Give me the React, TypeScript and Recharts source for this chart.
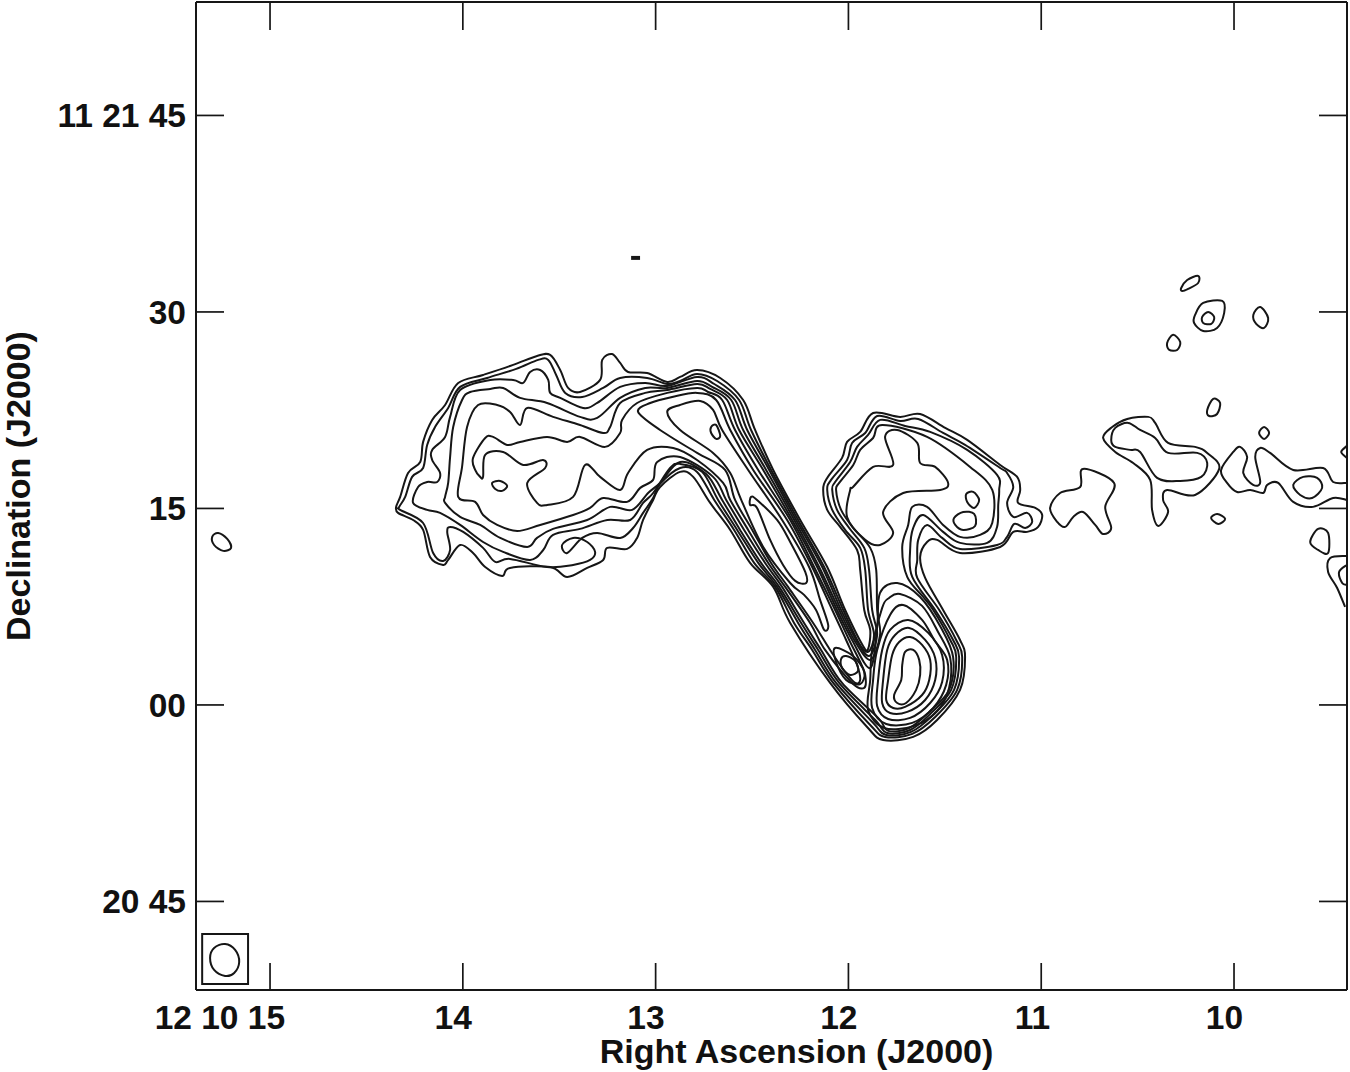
import { ScatterChart, Scatter, XAxis, YAxis } from "recharts";

// Positions are [RA seconds past 12h 10m, Dec arcsec past +11d 21m]
type Contour = [number, number][];

const raTicks = [15, 14, 13, 12, 11, 10];
const raTickLabels = ["12 10 15", "14", "13", "12", "11", "10"];
const decTicks = [45, 30, 15, 0, -15];
const decTickLabels = ["11 21 45", "30", "15", "00", "20 45"];

const level1: Contour = [[14.346,15.12],[14.325,15.88],[14.284,17.71],[14.221,18.55],[14.206,20.08],[14.159,21.76],[14.092,22.9],[14.024,24.58],[13.895,25.19],[13.739,25.96],[13.615,26.64],[13.547,26.72],[13.495,25.57],[13.454,24.2],[13.392,23.89],[13.288,24.81],[13.277,26.34],[13.226,26.79],[13.184,26.11],[13.143,25.42],[13.044,25.34],[12.94,24.66],[12.873,25.04],[12.785,25.57],[12.665,24.96],[12.546,23.28],[12.484,20.99],[12.39,17.94],[12.25,14.12],[12.11,10.53],[12.017,7.25],[11.924,4.5],[11.898,4.28],[11.887,5.73],[11.918,7.25],[11.939,10.31],[11.955,11.83],[12.043,13.59],[12.11,14.89],[12.131,16.41],[12.11,17.33],[12.033,18.86],[12.007,20.08],[11.939,20.84],[11.872,22.29],[11.732,21.99],[11.628,22.21],[11.498,21.15],[11.384,20.23],[11.213,18.32],[11.125,17.41],[11.109,16.41],[11.12,15.42],[11.031,15.04],[10.995,14.5],[11.016,13.59],[11.073,13.21],[11.145,13.21],[11.213,12.06],[11.421,11.6],[11.54,12.6],[11.592,12.44],[11.628,11.3],[11.602,9.7],[11.509,7.25],[11.421,4.96],[11.395,3.66],[11.421,1.15],[11.54,-1.15],[11.664,-2.44],[11.82,-2.67],[11.903,-1.68],[12.095,1.68],[12.302,6.26],[12.39,9.01],[12.51,10.84],[12.613,13.36],[12.717,15.42],[12.805,17.41],[12.873,17.79],[12.977,16.64],[13.013,15.65],[13.065,14.12],[13.096,12.75],[13.148,11.91],[13.251,11.99],[13.272,11.07],[13.355,10.46],[13.459,9.77],[13.547,10.53],[13.755,10.46],[13.796,9.85],[13.884,10.53],[13.947,11.6],[14.014,12.21],[14.076,11.07],[14.102,10.69],[14.17,11.3],[14.206,13.36],[14.258,14.12],[14.336,14.66]];
const level2: Contour = [[14.33,15.12],[14.299,15.88],[14.263,17.41],[14.206,18.09],[14.185,19.85],[14.144,21.22],[14.076,22.67],[14.014,24.28],[13.874,24.96],[13.723,25.65],[13.609,26.34],[13.557,26.34],[13.516,25.19],[13.469,23.82],[13.381,23.51],[13.272,24.2],[13.184,24.96],[13.044,24.96],[12.94,24.5],[12.873,24.73],[12.785,25.27],[12.681,24.73],[12.567,23.28],[12.505,20.99],[12.401,17.94],[12.261,14.12],[12.126,10.53],[12.027,7.25],[11.949,4.81],[11.898,4.05],[11.867,5.34],[11.898,7.25],[11.913,10.31],[11.939,11.99],[12.017,13.36],[12.084,14.89],[12.11,16.41],[12.09,17.18],[12.007,18.7],[11.981,20.0],[11.913,20.76],[11.851,22.06],[11.732,21.68],[11.638,21.83],[11.509,20.76],[11.395,19.85],[11.213,18.09],[11.177,17.71],[11.145,16.64],[11.177,15.42],[11.145,14.35],[11.073,14.66],[11.047,13.97],[11.083,13.51],[11.14,13.82],[11.177,12.83],[11.229,12.21],[11.421,11.91],[11.514,12.75],[11.592,13.74],[11.638,12.6],[11.643,11.07],[11.643,9.7],[11.529,7.25],[11.441,4.96],[11.41,3.66],[11.436,1.15],[11.55,-0.92],[11.669,-2.21],[11.81,-2.44],[11.887,-1.53],[12.079,1.68],[12.188,4.2],[12.282,6.26],[12.38,9.01],[12.489,10.84],[12.593,13.36],[12.696,15.65],[12.785,17.79],[12.873,18.09],[12.977,16.87],[13.013,15.8],[13.065,14.66],[13.117,13.51],[13.184,12.75],[13.303,13.13],[13.381,12.75],[13.459,11.6],[13.485,12.21],[13.428,12.75],[13.355,12.44],[13.314,11.68],[13.34,11.07],[13.428,10.69],[13.563,10.53],[13.755,11.15],[13.832,10.92],[13.895,11.99],[13.998,13.21],[14.066,13.59],[14.081,13.21],[14.066,11.83],[14.102,10.99],[14.154,11.6],[14.206,13.89],[14.325,14.89]];
const level3: Contour = [[14.258,15.42],[14.232,16.64],[14.185,17.02],[14.133,17.02],[14.118,17.71],[14.159,18.7],[14.159,19.47],[14.092,20.46],[14.066,21.99],[14.014,24.05],[13.858,24.81],[13.739,24.81],[13.687,24.58],[13.651,25.42],[13.599,25.57],[13.557,24.81],[13.547,23.82],[13.495,23.44],[13.376,22.67],[13.303,23.05],[13.184,24.28],[13.054,24.58],[12.94,24.35],[12.785,25.04],[12.696,24.5],[12.588,23.28],[12.525,20.99],[12.411,17.94],[12.271,14.12],[12.136,10.53],[12.038,7.25],[11.96,4.96],[11.893,3.74],[11.851,5.34],[11.877,7.25],[11.893,10.31],[11.918,11.99],[11.996,13.51],[12.059,14.89],[12.084,16.41],[12.069,17.02],[11.991,18.55],[11.955,19.7],[11.898,20.61],[11.835,21.76],[11.706,21.3],[11.576,20.84],[11.384,19.47],[11.229,17.56],[11.218,16.41],[11.223,15.27],[11.229,13.59],[11.28,12.37],[11.421,12.37],[11.509,13.21],[11.612,14.5],[11.664,13.51],[11.68,11.83],[11.669,9.77],[11.55,7.25],[11.457,4.96],[11.426,3.66],[11.452,1.15],[11.56,-0.76],[11.675,-2.06],[11.804,-2.29],[11.872,-1.37],[12.064,1.68],[12.173,4.2],[12.261,6.26],[12.37,9.01],[12.468,10.84],[12.577,13.36],[12.676,15.65],[12.759,17.79],[12.873,18.4],[12.925,18.09],[13.013,16.18],[13.065,15.42],[13.132,14.12],[13.251,14.12],[13.392,13.44],[13.532,12.98],[13.583,11.83],[13.651,11.07],[13.791,11.68],[13.895,12.44],[14.014,13.74],[14.118,14.66],[14.185,14.89]];
const level4: Contour = [[14.092,15.88],[14.076,16.95],[14.066,18.93],[14.05,21.22],[14.004,23.28],[13.962,23.89],[13.858,24.12],[13.791,24.2],[13.703,23.44],[13.563,23.05],[13.392,21.99],[13.303,21.91],[13.184,23.44],[13.054,24.2],[12.94,24.2],[12.785,24.73],[12.707,24.28],[12.608,23.28],[12.546,20.99],[12.427,17.94],[12.281,14.12],[12.152,10.53],[12.048,7.25],[11.97,4.96],[11.887,3.44],[11.836,5.34],[11.851,7.25],[11.856,10.31],[11.887,11.99],[11.975,13.51],[12.038,14.89],[12.064,16.41],[12.048,16.95],[11.975,18.32],[11.939,19.47],[11.872,20.38],[11.825,21.37],[11.592,20.46],[11.369,18.17],[11.254,16.41],[11.254,13.89],[11.317,12.98],[11.421,12.83],[11.509,13.74],[11.592,15.12],[11.669,15.12],[11.69,13.74],[11.721,12.06],[11.695,9.77],[11.612,8.24],[11.56,7.25],[11.472,4.96],[11.441,3.66],[11.467,1.15],[11.576,-0.69],[11.68,-1.91],[11.799,-2.14],[11.861,-1.15],[12.048,1.68],[12.157,4.2],[12.245,6.26],[12.359,9.01],[12.453,10.84],[12.562,13.36],[12.655,15.65],[12.738,17.63],[12.873,18.55],[12.977,16.95],[13.039,16.18],[13.122,14.89],[13.236,15.12],[13.355,14.12],[13.532,13.44],[13.615,12.75],[13.666,12.06],[13.806,12.75],[13.91,13.74],[14.014,14.35],[14.092,15.42]];
const level5: Contour = [[14.024,15.88],[14.004,18.17],[13.978,21.22],[13.921,22.9],[13.822,22.9],[13.755,22.37],[13.703,21.37],[13.666,22.67],[13.532,21.99],[13.392,21.37],[13.272,20.76],[13.236,21.22],[13.184,23.05],[13.054,23.82],[12.94,24.05],[12.785,24.5],[12.717,24.12],[12.629,23.28],[12.567,20.99],[12.442,17.94],[12.292,14.12],[12.162,10.53],[12.059,7.25],[11.981,4.96],[11.887,2.82],[11.851,5.95],[11.836,8.55],[11.747,9.31],[11.628,8.24],[11.519,5.88],[11.457,3.66],[11.478,1.15],[11.581,-0.53],[11.685,-1.76],[11.794,-1.98],[11.846,-0.99],[12.033,1.68],[12.142,4.2],[12.23,6.26],[12.344,9.01],[12.432,10.84],[12.541,13.36],[12.634,15.65],[12.702,17.41],[12.873,18.93],[12.992,18.55],[13.013,17.18],[13.08,16.57],[13.148,15.5],[13.272,15.8],[13.34,15.04],[13.428,14.5],[13.599,13.74],[13.718,13.28],[13.822,13.74],[13.895,14.5],[13.936,15.5]];
const level6: Contour = [[13.947,18.86],[13.884,20.38],[13.843,20.46],[13.77,19.85],[13.703,20.08],[13.563,20.46],[13.459,20.08],[13.392,20.46],[13.262,19.7],[13.184,20.76],[13.174,21.76],[13.096,23.05],[12.94,23.82],[12.785,24.2],[12.728,23.89],[12.655,23.28],[12.588,20.99],[12.468,17.94],[12.302,14.12],[12.178,10.53],[12.069,7.25],[11.996,4.96],[11.939,3.28],[11.913,2.29],[11.918,1.3],[11.981,1.68],[12.121,4.2],[12.199,6.26],[12.328,9.01],[12.416,10.84],[12.52,13.36],[12.613,15.65],[12.65,16.95],[12.785,18.7],[12.909,19.62],[13.044,19.47],[13.143,17.71],[13.184,16.41],[13.288,17.41],[13.366,18.32],[13.428,15.88],[13.563,15.27],[13.615,15.42],[13.666,16.95],[13.573,18.09],[13.584,18.7],[13.687,18.32],[13.791,19.31],[13.884,19.09],[13.895,17.41],[13.91,17.41],[13.936,17.94]];
const level7: Contour = [[13.091,22.37],[13.028,23.05],[12.914,23.51],[12.785,23.82],[12.686,23.28],[12.613,20.99],[12.494,17.94],[12.318,14.12],[12.188,10.53],[12.084,7.25],[12.012,4.96],[11.955,3.05],[11.939,1.91],[11.965,1.68],[12.017,2.52],[12.095,4.2],[12.183,6.26],[12.313,9.01],[12.401,10.84],[12.499,13.36],[12.588,15.65],[12.64,17.94],[12.785,19.24],[12.977,20.99]];
const level8: Contour = [[12.94,22.37],[12.873,22.9],[12.769,23.21],[12.702,22.52],[12.655,20.99],[12.52,17.94],[12.344,14.12],[12.204,10.53],[12.147,8.02],[12.105,6.11],[12.126,5.73],[12.168,7.25],[12.23,8.4],[12.302,9.31],[12.442,12.06],[12.556,15.65],[12.613,17.71],[12.702,19.24],[12.873,20.99]];
const jetKnot: Contour = [[12.505,15.88],[12.474,15.65],[12.37,14.12],[12.302,12.44],[12.224,10.15],[12.219,9.31],[12.276,9.47],[12.339,10.69],[12.406,12.6],[12.474,15.04],[12.51,15.27]];
const jetIsland: Contour = [[12.712,21.22],[12.686,21.37],[12.665,20.54],[12.686,20.31],[12.712,20.76]];
const baseLoop: Contour = [[12.069,4.35],[11.976,3.74],[11.918,2.52],[11.939,1.6],[12.012,1.91],[12.064,3.28]];
const baseIsland: Contour = [[12.012,3.74],[11.965,3.36],[11.95,2.6],[11.991,2.29],[12.033,2.82],[12.038,3.51]];

const core1: Contour = [[11.706,4.05],[11.664,4.2],[11.633,3.44],[11.628,2.29],[11.649,1.15],[11.701,0.15],[11.747,0.15],[11.763,0.76],[11.726,1.91],[11.721,3.05]];
const core2: Contour = [[11.68,5.19],[11.618,4.58],[11.576,3.44],[11.581,1.91],[11.618,0.76],[11.706,-0.15],[11.768,-0.23],[11.804,0.38],[11.794,1.91],[11.773,3.82],[11.737,4.81]];
const core3: Contour = [[11.685,5.88],[11.602,4.96],[11.55,3.59],[11.55,1.91],[11.602,0.38],[11.695,-0.53],[11.784,-0.61],[11.825,0.15],[11.82,1.91],[11.799,4.2],[11.758,5.34]];
const core4: Contour = [[11.69,6.49],[11.586,5.5],[11.514,3.82],[11.514,1.76],[11.576,0.15],[11.68,-0.99],[11.794,-1.07],[11.851,-0.08],[11.846,1.91],[11.825,4.2],[11.784,5.73]];
const core5: Contour = [[11.716,7.63],[11.618,6.49],[11.555,4.96],[11.488,3.44],[11.493,1.53],[11.56,-0.23],[11.669,-1.37],[11.804,-1.45],[11.877,-0.23],[11.872,1.91],[11.851,4.2],[11.784,6.87]];
const core6: Contour = [[11.732,8.47],[11.618,7.56],[11.535,5.57],[11.472,3.59],[11.478,1.3],[11.54,-0.46],[11.659,-1.6],[11.815,-1.76],[11.898,-0.38],[11.887,1.91],[11.877,4.2],[11.825,7.41],[11.789,8.17]];

const eastInner: Contour = [[11.991,16.41],[12.007,14.35],[11.913,12.6],[11.836,12.21],[11.768,13.13],[11.82,14.73],[11.716,16.18],[11.524,16.41],[11.483,16.95],[11.55,18.17],[11.628,18.47],[11.643,20.0],[11.747,20.99],[11.81,20.46],[11.768,18.32],[11.872,18.17],[11.976,16.64]];
const eastIslandA: Contour = [[11.389,16.11],[11.353,16.26],[11.322,15.65],[11.348,15.04],[11.384,15.5]];
const eastIslandB: Contour = [[11.452,14.27],[11.405,14.73],[11.348,14.58],[11.343,13.66],[11.405,13.36],[11.446,13.74]];
const westIsland: Contour = [[13.848,16.95],[13.806,17.1],[13.77,16.72],[13.796,16.34],[13.832,16.49]];
const farWestBlob: Contour = [[15.3,12.83],[15.269,13.13],[15.222,12.67],[15.202,11.99],[15.243,11.76],[15.29,12.21]];

const blob1: Contour = [[10.274,31.83],[10.243,32.44],[10.186,32.75],[10.186,32.21],[10.238,31.76],[10.269,31.6]];
const blob2: Contour = [[10.202,29.77],[10.16,30.69],[10.061,30.84],[10.051,29.93],[10.088,28.78],[10.16,28.55],[10.207,29.16]];
const blob2Inner: Contour = [[10.165,29.62],[10.134,30.0],[10.103,29.62],[10.118,29.09],[10.16,29.16]];
const blob3: Contour = [[9.9,29.77],[9.864,30.38],[9.823,29.54],[9.844,28.78],[9.885,29.09]];
const blob4: Contour = [[10.347,27.63],[10.316,28.25],[10.279,27.71],[10.295,27.1],[10.336,27.1]];
const blob5: Contour = [[10.139,22.52],[10.108,23.36],[10.072,23.05],[10.088,22.21],[10.129,22.06]];
const blob6: Contour = [[9.87,20.76],[9.844,21.22],[9.818,20.76],[9.844,20.31]];
const blob8: Contour = [[10.119,14.27],[10.087,14.58],[10.046,14.2],[10.082,13.82]];
const ridgeOuter: Contour = [[10.679,20.38],[10.632,21.22],[10.554,21.83],[10.445,21.99],[10.409,21.53],[10.342,20.0],[10.202,19.7],[10.139,19.24],[10.077,18.02],[10.202,16.03],[10.347,16.41],[10.368,15.65],[10.342,14.73],[10.393,13.66],[10.425,14.89],[10.435,17.18],[10.523,18.47],[10.616,19.31]];
const ridgeInner: Contour = [[10.637,20.23],[10.616,21.15],[10.549,21.53],[10.487,20.99],[10.409,20.38],[10.342,19.24],[10.191,19.24],[10.139,18.47],[10.17,17.41],[10.279,17.1],[10.399,17.33],[10.487,19.31],[10.539,19.47],[10.616,19.7]];
const blob10: Contour = [[10.954,15.04],[10.902,16.18],[10.798,16.64],[10.783,18.02],[10.622,16.95],[10.668,15.12],[10.637,13.51],[10.679,13.05],[10.72,13.74],[10.783,14.73],[10.834,14.35],[10.876,13.59],[10.917,13.97]];
const edgeInner: Contour = [[9.693,16.8],[9.641,17.41],[9.569,17.33],[9.543,16.57],[9.595,15.8],[9.657,16.03]];
const blob14: Contour = [[9.605,12.44],[9.564,13.44],[9.512,13.13],[9.512,11.6],[9.564,11.83]];
const beam: Contour = [[15.311,-19.31],[15.29,-18.55],[15.233,-18.25],[15.181,-18.7],[15.16,-19.62],[15.186,-20.46],[15.233,-20.69],[15.29,-20.23]];

// These run off the right edge of the map
const edgeRidge: Contour = [[9.415,16.95],[9.486,17.02],[9.538,18.09],[9.693,17.94],[9.813,19.24],[9.864,19.62],[9.89,18.93],[9.864,17.02],[9.901,16.8],[9.952,17.71],[9.932,18.93],[9.968,19.7],[10.004,19.31],[10.067,17.94],[10.036,16.95],[9.984,16.26],[9.916,16.41],[9.849,16.18],[9.828,16.8],[9.771,16.95],[9.693,15.5],[9.59,15.12],[9.486,15.8],[9.415,15.65]];
const edgeArc: Contour = [[9.415,19.77],[9.444,19.31],[9.415,18.86]];
const edgeLower: Contour = [[9.415,11.37],[9.501,11.22],[9.512,10.15],[9.465,8.93],[9.424,7.48]];
const edgeLowerInner: Contour = [[9.415,10.69],[9.455,10.15],[9.439,9.31],[9.415,9.16]];

const beamBox: Contour = [[15.352,-17.49],[15.114,-17.49],[15.114,-21.3],[15.352,-21.3]];
const speck: Contour = [[13.122,34.2],[13.086,34.2],[13.086,34.05],[13.122,34.05]];

const closedContours = [level1, level2, level3, level4, level5, level6, level7, level8, jetKnot, jetIsland, baseLoop, baseIsland, core1, core2, core3, core4, core5, core6, eastInner, eastIslandA, eastIslandB, westIsland, farWestBlob, blob1, blob2, blob2Inner, blob3, blob4, blob5, blob6, blob8, ridgeOuter, ridgeInner, blob10, edgeInner, blob14, beam];
const openContours = [edgeRidge, edgeArc, edgeLower, edgeLowerInner];
const straightContours = [beamBox, speck];

const INK = "#161616";
const FONT = "'Liberation Sans', Arial, sans-serif";

function toPoints(contour: Contour) {
  return contour.map(([ra, dec]) => ({ ra, dec }));
}

// Catmull-Rom through the traced points, the built-in basis curves pull away from them
function throughPoints(closed: boolean) {
  return (context: any) => {
    let pts: [number, number][] = [];
    return {
      areaStart() {},
      areaEnd() {},
      lineStart() {
        pts = [];
      },
      point(x: number, y: number) {
        pts.push([x, y]);
      },
      lineEnd() {
        const n = pts.length;
        const at = (i: number) => (closed ? pts[(i + n) % n] : pts[Math.max(0, Math.min(n - 1, i))]);
        context.moveTo(pts[0][0], pts[0][1]);
        for (let i = 0; i < (closed ? n : n - 1); i++) {
          const [x0, y0] = at(i - 1);
          const [x1, y1] = at(i);
          const [x2, y2] = at(i + 1);
          const [x3, y3] = at(i + 2);
          context.bezierCurveTo(x1 + (x2 - x0) / 6, y1 + (y2 - y0) / 6, x2 - (x3 - x1) / 6, y2 - (y3 - y1) / 6, x2, y2);
        }
        if (closed) context.closePath();
      },
    };
  };
}

const smoothClosed = throughPoints(true);
const smoothOpen = throughPoints(false);

const NoDot = () => <g />;

function BottomTick({ x, y, payload }: any) {
  const label = raTickLabels[raTicks.indexOf(payload.value)];
  return (
    <g>
      <line x1={x} y1={y} x2={x} y2={y - 27} stroke={INK} strokeWidth={1.7} />
      <text x={x + (label.length > 2 ? 15 : 9)} y={y + 39} textAnchor="end" fontFamily={FONT} fontWeight="bold" fontSize={33.5} fill="#111">
        {label}
      </text>
    </g>
  );
}

function LeftTick({ x, y, payload }: any) {
  const label = decTickLabels[decTicks.indexOf(payload.value)];
  return (
    <g>
      <line x1={x} y1={y} x2={x + 28} y2={y} stroke={INK} strokeWidth={1.7} />
      <text x={x - 10} y={y + 12} textAnchor="end" fontFamily={FONT} fontWeight="bold" fontSize={33.5} fill="#111">
        {label}
      </text>
    </g>
  );
}

function TopTick({ x, y }: any) {
  return <line x1={x} y1={y} x2={x} y2={y + 28} stroke={INK} strokeWidth={1.7} />;
}

function RightTick({ x, y }: any) {
  return <line x1={x} y1={y} x2={x - 28} y2={y} stroke={INK} strokeWidth={1.7} />;
}

const axisLine = { stroke: INK, strokeWidth: 2 };
const titleStyle = { fontFamily: FONT, fontWeight: "bold", fontSize: 34, fill: "#111", textAnchor: "middle" as const };
const contourLine = { stroke: INK, strokeWidth: 2, fill: "none" };

export default function App() {
  return (
    <div style={{ position: "absolute", left: 0, top: 0, width: 1350, height: 1072, background: "#fff" }}>
      <ScatterChart width={1350} height={1072} margin={{ top: 0, right: 0, bottom: 0, left: 0 }}>
        <XAxis
          xAxisId="bottom"
          type="number"
          dataKey="ra"
          orientation="bottom"
          reversed
          domain={[9.414, 15.384]}
          allowDataOverflow
          ticks={raTicks}
          interval={0}
          height={82}
          tickSize={0}
          tickMargin={0}
          tickLine={false}
          axisLine={axisLine}
          tick={BottomTick}
          label={{ value: "Right Ascension (J2000)", position: "insideBottom", offset: 9, dx: 25, style: titleStyle }}
        />
        <XAxis
          xAxisId="top"
          type="number"
          dataKey="ra"
          orientation="top"
          reversed
          domain={[9.414, 15.384]}
          allowDataOverflow
          ticks={raTicks}
          interval={0}
          height={2}
          tickSize={0}
          tickMargin={0}
          tickLine={false}
          axisLine={axisLine}
          tick={TopTick}
        />
        <YAxis
          yAxisId="left"
          type="number"
          dataKey="dec"
          orientation="left"
          domain={[-21.76, 53.66]}
          allowDataOverflow
          ticks={decTicks}
          interval={0}
          width={196}
          tickSize={0}
          tickMargin={0}
          tickLine={false}
          axisLine={axisLine}
          tick={LeftTick}
          label={{ value: "Declination (J2000)", angle: -90, position: "insideLeft", offset: 18, dy: -10, style: titleStyle }}
        />
        <YAxis
          yAxisId="right"
          type="number"
          dataKey="dec"
          orientation="right"
          domain={[-21.76, 53.66]}
          allowDataOverflow
          ticks={decTicks}
          interval={0}
          width={3}
          tickSize={0}
          tickMargin={0}
          tickLine={false}
          axisLine={axisLine}
          tick={RightTick}
        />
        {closedContours.map((contour, i) => (
          <Scatter
            key={`closed-${i}`}
            xAxisId="bottom"
            yAxisId="left"
            data={toPoints(contour)}
            shape={NoDot}
            line={contourLine}
            lineJointType={smoothClosed as any}
            isAnimationActive={false}
          />
        ))}
        {openContours.map((contour, i) => (
          <Scatter
            key={`open-${i}`}
            xAxisId="bottom"
            yAxisId="left"
            data={toPoints(contour)}
            shape={NoDot}
            line={contourLine}
            lineJointType={smoothOpen as any}
            isAnimationActive={false}
          />
        ))}
        {straightContours.map((contour, i) => (
          <Scatter
            key={`straight-${i}`}
            xAxisId="bottom"
            yAxisId="left"
            data={toPoints(contour)}
            shape={NoDot}
            line={contourLine}
            lineJointType="linearClosed"
            isAnimationActive={false}
          />
        ))}
      </ScatterChart>
    </div>
  );
}
